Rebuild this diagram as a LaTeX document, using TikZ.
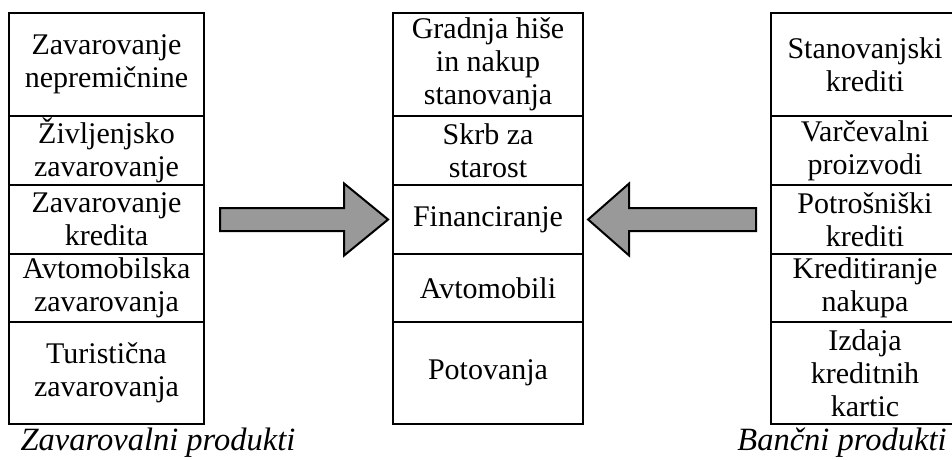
\documentclass[tikz,border=0pt]{standalone}
\usepackage{fontspec}
\setmainfont{Liberation Serif}
\usepackage{tikz}
\usetikzlibrary{calc}
\definecolor{Strela}{HTML}{999999}
\tikzset{
  celica/.style={draw=black,line width=2.2pt,inner sep=0pt,align=center,
    font=\fontsize{30}{33}\selectfont},
  levo/.style={celica,minimum width=195pt},
  sredina/.style={celica,minimum width=190pt},
  desno/.style={celica,minimum width=188pt},
  napis/.style={anchor=base,font=\fontsize{32.5}{36}\selectfont\itshape},
  strela/.style={draw=black,line width=2pt,fill=Strela,line join=miter},
}

\begin{document}
\begin{tikzpicture}[x=1pt,y=1pt]
    \clip (0,-459) rectangle (952,0);
    \fill[white] (0,-459) rectangle (952,0);

    % zavarovalni produkti
    \node[levo,minimum height=103pt] (zav1) at (106.5,-64.5) {Zavarovanje\\nepremičnine};
    \node[levo,minimum height=69pt] (zav2) at (106.5,-150.5) {Življenjsko\\zavarovanje};
    \node[levo,minimum height=69pt] (zav3) at (106.5,-219.5) {Zavarovanje\\kredita};
    \node[levo,minimum height=68pt] (zav4) at (106.5,-288) {Avtomobilska\\zavarovanja};
    \node[levo,minimum height=102pt] (zav5) at (106.5,-373) {Turistična\\zavarovanja};
    \node[napis] (zavnapis) at (158,-450) {Zavarovalni produkti};

    % nameni
    \node[sredina,minimum height=103pt] (namen1) at (488,-64.5) {Gradnja hiše\\in nakup\\stanovanja};
    \node[sredina,minimum height=69pt] (namen2) at (488,-150.5) {Skrb za\\starost};
    \node[sredina,minimum height=69pt] (namen3) at (488,-219.5) {Financiranje};
    \node[sredina,minimum height=68pt] (namen4) at (488,-288) {Avtomobili};
    \node[sredina,minimum height=102pt] (namen5) at (488,-373) {Potovanja};

    % bancni produkti
    \node[desno,minimum height=103pt] (ban1) at (865,-64.5) {Stanovanjski\\krediti};
    \node[desno,minimum height=69pt] (ban2) at (865,-150.5) {Varčevalni\\proizvodi};
    \node[desno,minimum height=69pt] (ban3) at (865,-219.5) {Potrošniški\\krediti};
    \node[desno,minimum height=68pt] (ban4) at (865,-288) {Kreditiranje\\nakupa};
    \node[desno,minimum height=102pt] (ban5) at (865,-373) {Izdaja\\kreditnih\\kartic};
    \node[napis] (bannapis) at (842,-450) {Bančni produkti};

    % puscici
    \draw[strela] ($(zav3.east)+(15,11.5)$) -- ++(124,0) -- ++(0,24.5) -- ++(44,-36)
      -- ++(-44,-36) -- ++(0,24.5) -- ++(-124,0) -- cycle;
    \draw[strela] ($(namen3.east)+(4,0)$) -- ++(41,36) -- ++(0,-24.5) -- ++(127,0)
      -- ++(0,-23) -- ++(-127,0) -- ++(0,-24.5) -- cycle;
  \end{tikzpicture}
\end{document}
